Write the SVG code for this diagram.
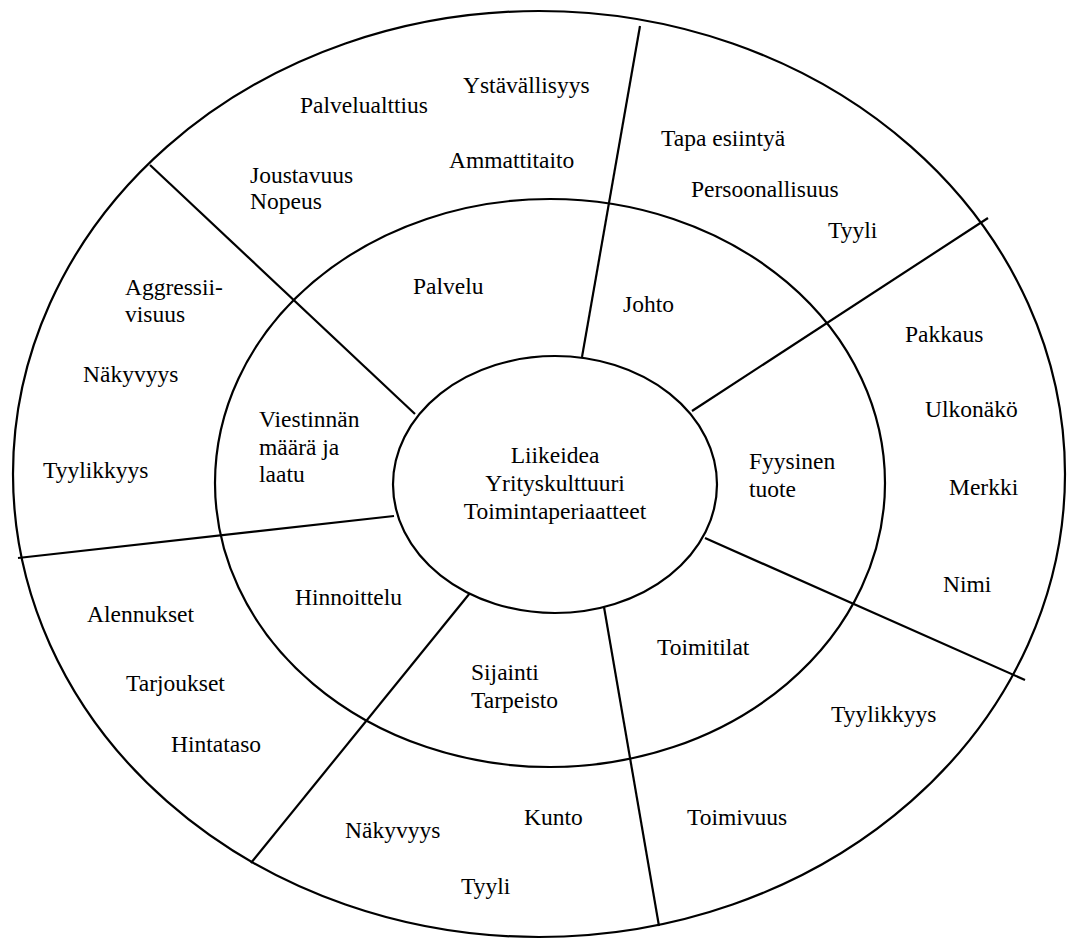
<svg xmlns="http://www.w3.org/2000/svg" width="1070" height="940" viewBox="0 0 1070 940">
  <style>
    .ring { fill: none; stroke: #000; stroke-width: 2.2; }
    .core { fill: #fff; stroke: #000; stroke-width: 2.2; }
    .div { stroke: #000; stroke-width: 2.2; fill: none; }
    text { font-family: 'Liberation Serif', 'Times New Roman', 'DejaVu Serif', serif; font-size: 23.5px; fill: #000; }
    .c { text-anchor: middle; }
  </style>
  <rect width="1070" height="940" fill="#fff"/>

  <!-- rings -->
  <g id="rings">
    <ellipse class="ring" cx="539" cy="474" rx="526" ry="463"/>
    <ellipse class="ring" cx="550" cy="483" rx="335" ry="284"/>
  </g>

  <!-- sector dividers -->
  <g id="connectors">
    <line class="div" x1="582" y1="357" x2="640" y2="26"/>
    <line class="div" x1="692" y1="411" x2="988" y2="218"/>
    <line class="div" x1="705" y1="538" x2="1025" y2="680"/>
    <line class="div" x1="604" y1="607" x2="659" y2="926"/>
    <line class="div" x1="470" y1="593" x2="251" y2="863"/>
    <line class="div" x1="394" y1="516" x2="18" y2="558"/>
    <line class="div" x1="415" y1="414" x2="150" y2="165"/>
  </g>

  <!-- centre -->
  <g id="core">
    <ellipse class="core" cx="555" cy="484.5" rx="162" ry="128.5"/>
    <text class="c" x="555" y="463">Liikeidea</text>
    <text class="c" x="555" y="491">Yrityskulttuuri</text>
    <text class="c" x="555" y="519">Toimintaperiaatteet</text>
  </g>

  <!-- middle ring -->
  <g id="palvelu"><text x="413" y="294">Palvelu</text></g>
  <g id="johto"><text x="623" y="312">Johto</text></g>
  <g id="fyysinen-tuote">
    <text x="749" y="469">Fyysinen</text>
    <text x="749" y="497">tuote</text>
  </g>
  <g id="toimitilat"><text x="657" y="655">Toimitilat</text></g>
  <g id="sijainti">
    <text x="471" y="680">Sijainti</text>
    <text x="471" y="708">Tarpeisto</text>
  </g>
  <g id="hinnoittelu"><text x="295" y="605">Hinnoittelu</text></g>
  <g id="viestinta">
    <text x="259" y="427">Viestinnän</text>
    <text x="259" y="455">määrä ja</text>
    <text x="259" y="482">laatu</text>
  </g>

  <!-- outer ring: service -->
  <g id="palvelu-outer">
    <text x="463" y="93">Ystävällisyys</text>
    <text x="300" y="113">Palvelualttius</text>
    <text x="449" y="168">Ammattitaito</text>
    <text x="250" y="183">Joustavuus</text>
    <text x="250" y="209">Nopeus</text>
  </g>
  <!-- outer ring: management -->
  <g id="johto-outer">
    <text x="661" y="146">Tapa esiintyä</text>
    <text x="691" y="197">Persoonallisuus</text>
    <text x="828" y="238">Tyyli</text>
  </g>
  <!-- outer ring: product -->
  <g id="tuote-outer">
    <text x="905" y="342">Pakkaus</text>
    <text x="925" y="417">Ulkonäkö</text>
    <text x="949" y="495">Merkki</text>
    <text x="943" y="592">Nimi</text>
  </g>
  <!-- outer ring: premises -->
  <g id="toimitilat-outer">
    <text x="831" y="722">Tyylikkyys</text>
    <text x="687" y="825">Toimivuus</text>
  </g>
  <!-- outer ring: location -->
  <g id="sijainti-outer">
    <text x="524" y="825">Kunto</text>
    <text x="345" y="838">Näkyvyys</text>
    <text x="461" y="894">Tyyli</text>
  </g>
  <!-- outer ring: pricing -->
  <g id="hinnoittelu-outer">
    <text x="87" y="622">Alennukset</text>
    <text x="126" y="691">Tarjoukset</text>
    <text x="171" y="752">Hintataso</text>
  </g>
  <!-- outer ring: communication -->
  <g id="viestinta-outer">
    <text x="125" y="295">Aggressii-</text>
    <text x="125" y="322">visuus</text>
    <text x="83" y="382">Näkyvyys</text>
    <text x="43" y="478">Tyylikkyys</text>
  </g>
</svg>
